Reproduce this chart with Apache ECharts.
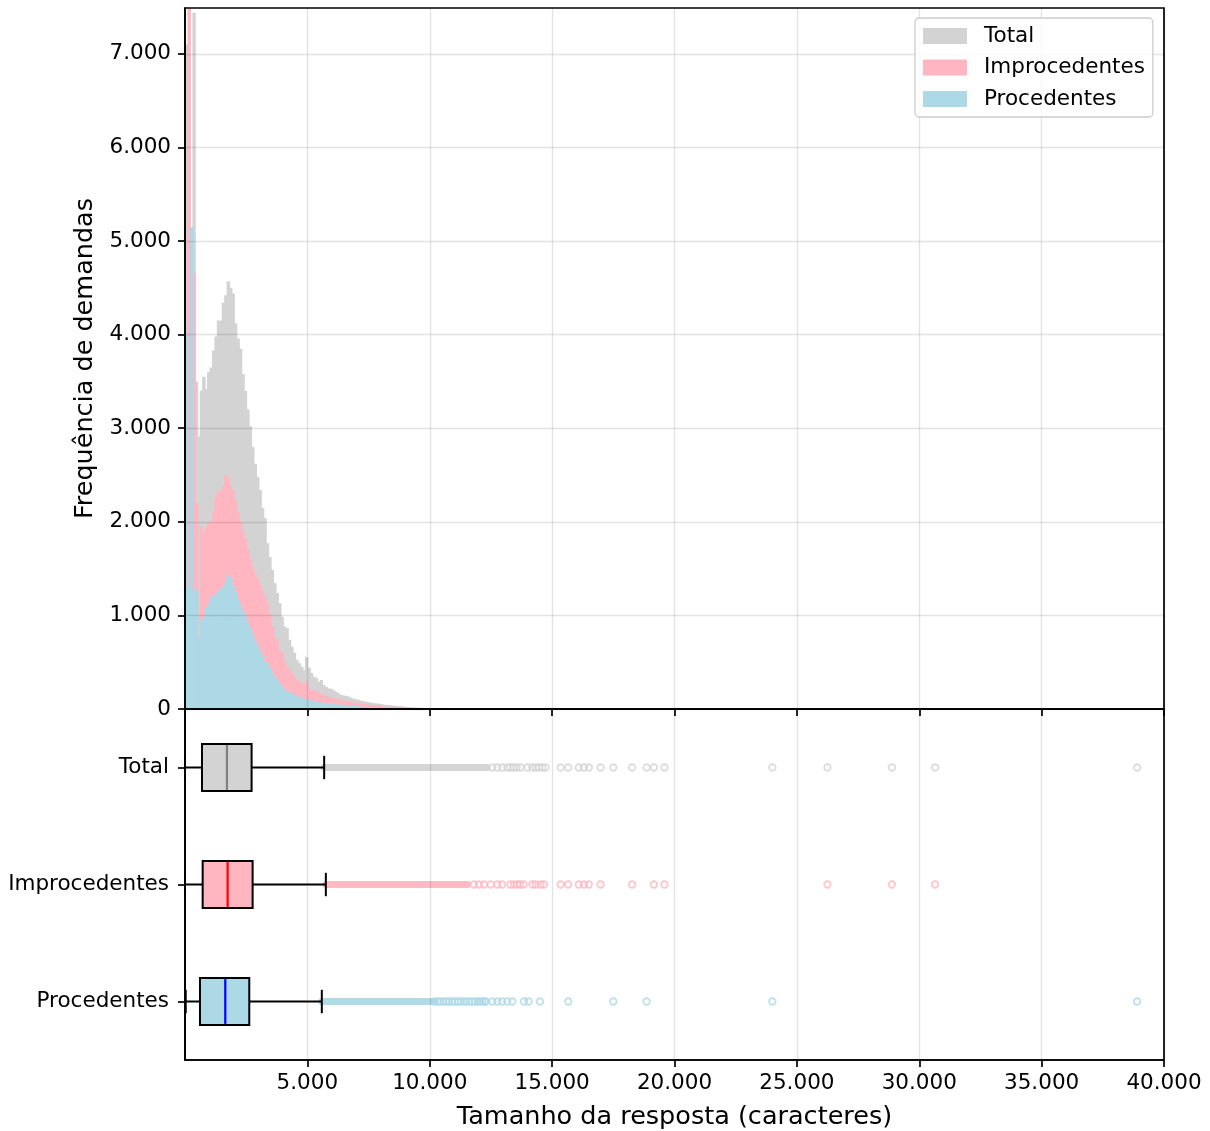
<!DOCTYPE html>
<html><head><meta charset="utf-8">
<script src="https://cdn.jsdelivr.net/npm/echarts@6/dist/echarts.min.js"></script>
<style>html,body{margin:0;padding:0;background:#fff}#c{width:1210px;height:1131px}</style>
</head><body><div id="c"></div>
<script>
// ---------------- DATA ----------------
const seriesNames = ['Total', 'Improcedentes', 'Procedentes'];
const binWidth = 100; // characters per histogram bin (bin i covers [i*100, (i+1)*100))
const totalCounts = [7100,4000,4800,7440,3500,2910,3400,3550,3420,3600,3650,3830,3980,4150,4150,4340,4420,4570,4500,4440,
  4120,3960,3850,3580,3400,3200,3020,2800,2620,2480,2340,2150,2040,1770,1625,1485,1345,1240,1130,985,
  880,865,740,665,600,525,490,450,415,555,440,385,345,330,290,310,255,235,220,215,
  200,185,170,150,145,140,135,120,110,105,100,90,85,80,75,70,65,60,58,55,
  50,45,42,40,38,35,32,30,28,25,22,20,18,16,15,13,12,11,10,9,
  8,7,7,6,6,5,5,4,4,3];
const improCounts = [3000,7600,4000,4660,2200,770,1950,1880,1950,2000,1990,2110,2260,2330,2330,2390,2500,2480,2380,2330,
  2230,2100,2000,1900,1820,1700,1600,1520,1440,1400,1330,1260,1200,1130,1025,880,770,740,630,600,
  525,450,415,385,345,310,300,275,265,300,220,200,200,185,180,165,150,140,130,125,
  120,110,100,95,90,88,85,80,70,66,63,60,55,52,48,45,40,38,36,34,
  30,28,26,25,23,21,20,18,16,15,13,12,11,10,9,8,7,7,6,5,
  5,4,4,3,3,3,2,2,2,1];
const procCounts = [4000,1300,5150,1270,1270,760,950,980,1080,1120,1200,1200,1230,1250,1290,1300,1360,1430,1400,1320,
  1250,1180,1110,1050,990,920,860,800,730,680,620,570,505,490,440,385,345,310,275,240,
  210,195,180,160,150,140,130,120,110,100,95,90,85,80,75,70,68,65,60,55,
  52,50,47,45,40,38,36,34,32,30,28,27,25,23,22,20,19,18,17,15,
  14,13,12,11,10,9,9,8,7,7,6,6,5,5,4,4,4,3,3,3,
  3,2,2,2,2,1,1,1,1,1];

const xTicks = [5000,10000,15000,20000,25000,30000,35000,40000];
const xTickLabels = ['5.000','10.000','15.000','20.000','25.000','30.000','35.000','40.000'];
const yTicks = [0,1000,2000,3000,4000,5000,6000,7000];
const yTickLabels = ['0','1.000','2.000','3.000','4.000','5.000','6.000','7.000'];

const boxCategories = ['Total', 'Improcedentes', 'Procedentes'];
const boxLow    = [1, 1, 30];
const boxQ1     = [694, 722, 612];
const boxMedian = [1714, 1742, 1646];
const boxQ3     = [2721, 2763, 2626];
const boxHigh   = [5686, 5755, 5590];
// dense runs of overlapping outliers (continuous band) per category
const denseOutlierStart = [5690, 5760, 5590];
const denseOutlierEnd   = [12350, 11540, 10160];
const outliersTotal = [12560,12760,12960,13170,13300,13420,13550,13710,13990,14190,14330,14460,14600,14730,
  15350,15660,16090,16300,16500,16980,17500,18270,18860,19160,19590,24000,26250,28880,30650,38900];
const outliersImpro = [11810,12010,12220,12490,12760,12960,13300,13440,13580,13700,13840,14190,14330,14530,14670,
  15350,15660,16090,16300,16500,16980,18270,19160,19590,26250,28880,30650];
const outliersProc = [10210,10330,10420,10560,10690,10780,10910,11020,11150,11270,11390,11480,11610,11730,11840,
  11960,12050,12140,12230,12290,12560,12760,12960,13170,13370,13850,14040,14500,15660,17500,18860,24000,38900];

// ---------------- STYLE ----------------
const fillColors = ['#d3d3d3', '#ffb6c1', '#add8e6'];
const medianColors = ['#808080', '#ff0000', '#0000ff'];
const FONT = 'DejaVu Sans';
const gridLine = {show: true, lineStyle: {color: 'rgba(0,0,0,0.11)', width: 1.4}};
const axisLineStyle = {color: '#000', width: 1.7};

function histData(counts) {
  return counts.map((c, i) => [i * binWidth, (i + 1) * binWidth, c]);
}
function histRender(color) {
  return function (params, api) {
    const v = api.value(2);
    if (!v) return null;
    const a = api.coord([api.value(0), v]);
    const b = api.coord([api.value(1), 0]);
    return {type: 'rect', shape: {x: a[0], y: a[1], width: b[0] - a[0] + 1, height: b[1] - a[1]},
      style: {fill: color}};
  };
}

const boxData = boxCategories.map((c, i) => [i, boxLow[i], boxQ1[i], boxMedian[i], boxQ3[i], boxHigh[i]]);
function boxRender(params, api) {
  const ci = api.value(0);
  const band = api.size([0, 1])[1];
  const h = band * 0.4;
  const pLo = api.coord([api.value(1), ci]);
  const pQ1 = api.coord([api.value(2), ci]);
  const pMed = api.coord([api.value(3), ci]);
  const pQ3 = api.coord([api.value(4), ci]);
  const pHi = api.coord([api.value(5), ci]);
  const cy = pLo[1];
  const ls = {stroke: '#000', lineWidth: 2};
  return {type: 'group', children: [
    {type: 'line', shape: {x1: pLo[0], y1: cy, x2: pQ1[0], y2: cy}, style: ls},
    {type: 'line', shape: {x1: pQ3[0], y1: cy, x2: pHi[0], y2: cy}, style: ls},
    {type: 'line', shape: {x1: pLo[0], y1: cy - h / 4, x2: pLo[0], y2: cy + h / 4}, style: ls},
    {type: 'line', shape: {x1: pHi[0], y1: cy - h / 4, x2: pHi[0], y2: cy + h / 4}, style: ls},
    {type: 'rect', shape: {x: pQ1[0], y: cy - h / 2, width: pQ3[0] - pQ1[0], height: h},
      style: {fill: fillColors[ci], stroke: '#000', lineWidth: 2}},
    {type: 'line', shape: {x1: pMed[0], y1: cy - h / 2 + 1, x2: pMed[0], y2: cy + h / 2 - 1},
      style: {stroke: medianColors[ci], lineWidth: 2.2}}
  ]};
}
const bandData = boxCategories.map((c, i) => [i, denseOutlierStart[i], denseOutlierEnd[i]]);
function bandRender(params, api) {
  const ci = api.value(0);
  const a = api.coord([api.value(1), ci]);
  const b = api.coord([api.value(2), ci]);
  const t = 7;
  return {type: 'rect', shape: {x: a[0] - t / 2, y: a[1] - t / 2, width: b[0] - a[0] + t, height: t, r: t / 2},
    style: {fill: fillColors[ci], opacity: 0.95}};
}
function outlierSeries(vals, ci) {
  return {type: 'scatter', name: 'out' + ci, xAxisIndex: 1, yAxisIndex: 1, z: 3,
    data: vals.map(v => [v, ci]), symbol: 'circle', symbolSize: 6.5,
    itemStyle: {color: 'rgba(255,255,255,0)', borderColor: fillColors[ci], borderWidth: 1.8, opacity: 0.8},
    silent: true, animation: false};
}

const chart = echarts.init(document.getElementById('c'), null, {renderer: 'canvas'});
chart.setOption({
  animation: false,
  textStyle: {fontFamily: FONT, color: '#000'},
  grid: [
    {left: 185, right: 46, top: 8, height: 701, show: true, borderColor: '#000', borderWidth: 1.7,
      backgroundColor: 'transparent', z: 6, outerBoundsMode: 'none'},
    {left: 185, right: 46, top: 709, height: 351, show: true, borderColor: '#000', borderWidth: 1.7,
      backgroundColor: 'transparent', z: 6, outerBoundsMode: 'none'}
  ],
  legend: {
    data: seriesNames.map(n => ({name: n, icon: 'rect'})),
    orient: 'vertical', left: 915, top: 18,
    padding: [6, 8, 6, 8], itemWidth: 44, itemHeight: 16, itemGap: 7.5,
    backgroundColor: 'rgba(255,255,255,0.8)', borderColor: '#cccccc', borderWidth: 1.3, borderRadius: 4,
    textStyle: {fontFamily: FONT, fontSize: 21.5, lineHeight: 24, color: '#000', padding: [0, 0, 0, 12]},
    selectedMode: false, z: 10
  },
  xAxis: [
    {type: 'value', gridIndex: 0, min: 0, max: 40000, z: 5,
      axisLine: {show: true, lineStyle: axisLineStyle},
      axisTick: {show: true, customValues: xTicks, length: 7, inside: false, lineStyle: axisLineStyle},
      axisLabel: {show: false}, splitLine: gridLine},
    {type: 'value', gridIndex: 1, min: 0, max: 40000, z: 5,
      axisLine: {show: true, lineStyle: axisLineStyle},
      axisTick: {show: true, customValues: xTicks, length: 7, lineStyle: axisLineStyle},
      axisLabel: {customValues: xTicks, fontSize: 21.5, color: '#000', fontFamily: FONT, margin: 12,
        formatter: v => xTickLabels[xTicks.indexOf(v)] || ''},
      splitLine: gridLine,
      name: 'Tamanho da resposta (caracteres)', nameLocation: 'middle', nameGap: 44,
      nameTextStyle: {fontSize: 25.5, color: '#000', fontFamily: FONT}}
  ],
  yAxis: [
    {type: 'value', gridIndex: 0, min: 0, max: 7490, z: 5,
      axisLine: {show: true, lineStyle: axisLineStyle},
      axisTick: {show: true, customValues: yTicks, length: 7, lineStyle: axisLineStyle},
      axisLabel: {customValues: yTicks, fontSize: 21.5, color: '#000', fontFamily: FONT, margin: 14,
        formatter: v => yTickLabels[yTicks.indexOf(v)] || ''},
      splitLine: gridLine,
      name: 'Frequência de demandas', nameLocation: 'middle', nameGap: 82,
      nameTextStyle: {fontSize: 25.5, color: '#000', fontFamily: FONT}},
    {type: 'category', gridIndex: 1, data: boxCategories, inverse: true, z: 5,
      axisLine: {show: true, lineStyle: axisLineStyle},
      axisTick: {show: true, alignWithLabel: true, length: 7, lineStyle: axisLineStyle},
      axisLabel: {fontSize: 21.5, color: '#000', fontFamily: FONT, margin: 16},
      splitLine: {show: false}}
  ],
  series: [
    {type: 'custom', name: 'Total', xAxisIndex: 0, yAxisIndex: 0, clip: true, z: 2,
      itemStyle: {color: fillColors[0]}, encode: {x: [0, 1], y: 2},
      data: histData(totalCounts), renderItem: histRender(fillColors[0])},
    {type: 'custom', name: 'Improcedentes', xAxisIndex: 0, yAxisIndex: 0, clip: true, z: 2,
      itemStyle: {color: fillColors[1]}, encode: {x: [0, 1], y: 2},
      data: histData(improCounts), renderItem: histRender(fillColors[1])},
    {type: 'custom', name: 'Procedentes', xAxisIndex: 0, yAxisIndex: 0, clip: true, z: 2,
      itemStyle: {color: fillColors[2]}, encode: {x: [0, 1], y: 2},
      data: histData(procCounts), renderItem: histRender(fillColors[2])},
    {type: 'custom', name: 'bands', xAxisIndex: 1, yAxisIndex: 1, z: 3, silent: true,
      encode: {x: [1, 2], y: 0}, data: bandData, renderItem: bandRender},
    outlierSeries(outliersTotal, 0),
    outlierSeries(outliersImpro, 1),
    outlierSeries(outliersProc, 2),
    {type: 'custom', name: 'boxes', xAxisIndex: 1, yAxisIndex: 1, z: 4, silent: true,
      encode: {x: [1, 2, 3, 4, 5], y: 0}, data: boxData, renderItem: boxRender}
  ]
});
</script>
</body></html>
